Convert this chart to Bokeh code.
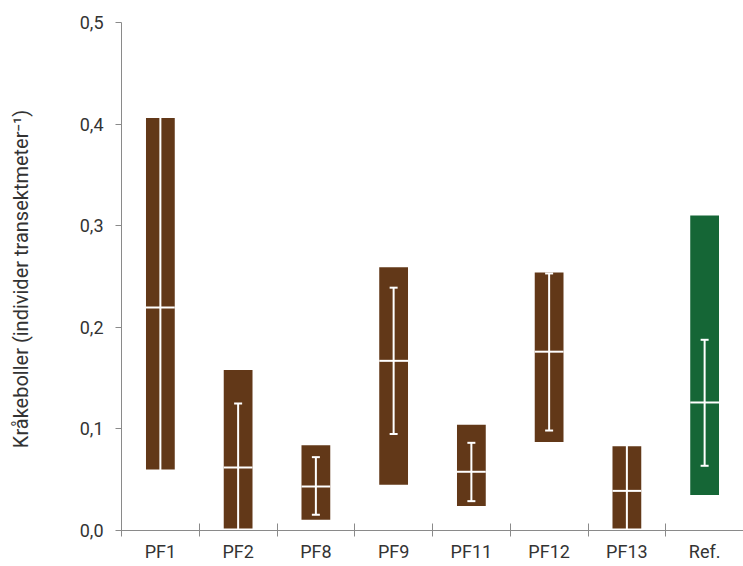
from bokeh.plotting import figure
from bokeh.models import ColumnDataSource, Whisker, TeeHead, FixedTicker
from bokeh.embed import file_html
from bokeh.resources import INLINE

categories = ["PF1", "PF2", "PF8", "PF9", "PF11", "PF12", "PF13", "Ref."]
bar_low = [0.060, 0.002, 0.0105, 0.045, 0.024, 0.087, 0.002, 0.035]
bar_high = [0.406, 0.158, 0.084, 0.259, 0.104, 0.254, 0.083, 0.310]
median = [0.2195, 0.062, 0.0433, 0.167, 0.0578, 0.176, 0.039, 0.126]
err_low = [0.011, -0.01, 0.0155, 0.095, 0.0289, 0.0984, -0.01, 0.0637]
err_high = [0.429, 0.125, 0.0722, 0.239, 0.0863, 0.253, 0.087, 0.1877]
colors = ["#623818"] * 7 + ["#156636"]
y_ticks = [0.0, 0.1, 0.2, 0.3, 0.4, 0.5]
y_tick_labels = ["0,0", "0,1", "0,2", "0,3", "0,4", "0,5"]

xs = [i + 0.5 for i in range(len(categories))]
src = ColumnDataSource(dict(x=xs, lo=bar_low, hi=bar_high, med=median,
                            elo=err_low, ehi=err_high, color=colors))

FONT = "Roboto"
TXT = "#333333"
AX = "#8a8a8a"

p = figure(width=743, height=566, x_range=(0, len(categories)), y_range=(0, 0.5),
           output_backend="svg", toolbar_location=None,
           min_border_left=121, min_border_top=22, min_border_right=0, min_border_bottom=36)
p.outline_line_color = None
p.xgrid.visible = False
p.ygrid.visible = False

p.vbar(x="x", top="hi", bottom="lo", width=0.37, fill_color="color", line_color=None, source=src)
p.rect(x="x", y="med", width=0.37, height=2, height_units="screen",
       fill_color="white", line_color=None, source=src)
w = Whisker(base="x", lower="elo", upper="ehi", source=src, line_color="white", line_width=2,
            level="glyph",
            lower_head=TeeHead(size=8, line_color="white", line_width=2),
            upper_head=TeeHead(size=8, line_color="white", line_width=2))
p.add_layout(w)

# y axis
p.yaxis.ticker = FixedTicker(ticks=y_ticks)
p.yaxis.major_label_overrides = {t: l for t, l in zip(y_ticks, y_tick_labels)}
p.yaxis.minor_tick_line_color = None
p.yaxis.major_tick_in = 0
p.yaxis.major_tick_out = 6
p.yaxis.axis_line_color = AX
p.yaxis.major_tick_line_color = AX
p.yaxis.major_label_text_font = FONT
p.yaxis.major_label_text_font_size = "18px"
p.yaxis.major_label_text_color = TXT
p.yaxis.major_label_standoff = 12
p.yaxis.axis_label = "Kråkeboller  (individer transektmeter\u207b\u00b9)"
p.yaxis.axis_label_text_font = FONT
p.yaxis.axis_label_text_font_size = "20px"
p.yaxis.axis_label_text_font_style = "normal"
p.yaxis.axis_label_text_color = TXT
p.yaxis.axis_label_standoff = 44

# x axis: labels at centres, tick marks at category boundaries (minor ticks)
p.xaxis.ticker = FixedTicker(ticks=xs, minor_ticks=list(range(len(categories) + 1)))
p.xaxis.major_label_overrides = {x: c for x, c in zip(xs, categories)}
p.xaxis.major_tick_line_color = None
p.xaxis.minor_tick_line_color = AX
p.xaxis.minor_tick_in = 7
p.xaxis.minor_tick_out = 6
p.xaxis.axis_line_color = AX
p.xaxis.major_label_text_font = FONT
p.xaxis.major_label_text_font_size = "18px"
p.xaxis.major_label_text_color = TXT
p.xaxis.major_label_standoff = 4

open("out.html", "w").write(file_html(p, INLINE))
